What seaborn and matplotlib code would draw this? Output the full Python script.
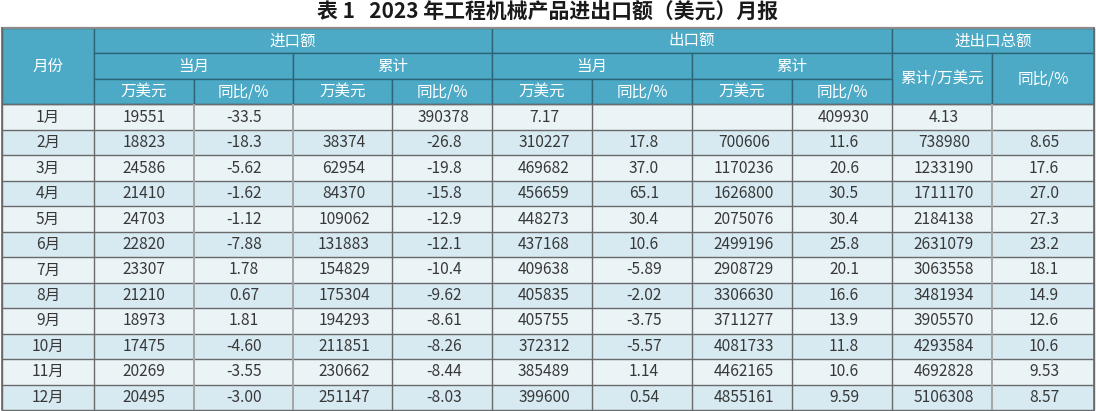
import numpy as np
import matplotlib
matplotlib.use("Agg")
import matplotlib.pyplot as plt
from matplotlib.colors import ListedColormap
from matplotlib.patches import Rectangle
import seaborn as sns

sns.set_style("white")
plt.rcParams['font.family'] = ['Noto Sans CJK SC', 'DejaVu Sans']

# ---------------- data ----------------
title = "表 1   2023 年工程机械产品进出口额（美元）月报"
months = ["1月", "2月", "3月", "4月", "5月", "6月", "7月", "8月", "9月", "10月", "11月", "12月"]
imp_month_val = ["19551", "18823", "24586", "21410", "24703", "22820", "23307", "21210", "18973", "17475", "20269", "20495"]
imp_month_yoy = ["-33.5", "-18.3", "-5.62", "-1.62", "-1.12", "-7.88", "1.78", "0.67", "1.81", "-4.60", "-3.55", "-3.00"]
imp_cum_val = ["", "38374", "62954", "84370", "109062", "131883", "154829", "175304", "194293", "211851", "230662", "251147"]
imp_cum_yoy = ["390378", "-26.8", "-19.8", "-15.8", "-12.9", "-12.1", "-10.4", "-9.62", "-8.61", "-8.26", "-8.44", "-8.03"]
exp_month_val = ["7.17", "310227", "469682", "456659", "448273", "437168", "409638", "405835", "405755", "372312", "385489", "399600"]
exp_month_yoy = ["", "17.8", "37.0", "65.1", "30.4", "10.6", "-5.89", "-2.02", "-3.75", "-5.57", "1.14", "0.54"]
exp_cum_val = ["", "700606", "1170236", "1626800", "2075076", "2499196", "2908729", "3306630", "3711277", "4081733", "4462165", "4855161"]
exp_cum_yoy = ["409930", "11.6", "20.6", "30.5", "30.4", "25.8", "20.1", "16.6", "13.9", "11.8", "10.6", "9.59"]
total_cum = ["4.13", "738980", "1233190", "1711170", "2184138", "2631079", "3063558", "3481934", "3905570", "4293584", "4692828", "5106308"]
total_yoy = ["", "8.65", "17.6", "27.0", "27.3", "23.2", "18.1", "14.9", "12.6", "10.6", "9.53", "8.57"]

# header cells: (text, col_start, col_end, row_start, row_end)
header_cells = [
    ("月份", 0, 1, 0, 3),
    ("进口额", 1, 5, 0, 1), ("出口额", 5, 9, 0, 1), ("进出口总额", 9, 11, 0, 1),
    ("当月", 1, 3, 1, 2), ("累计", 3, 5, 1, 2), ("当月", 5, 7, 1, 2), ("累计", 7, 9, 1, 2),
    ("累计/万美元", 9, 10, 1, 3), ("同比/%", 10, 11, 1, 3),
    ("万美元", 1, 2, 2, 3), ("同比/%", 2, 3, 2, 3), ("万美元", 3, 4, 2, 3), ("同比/%", 4, 5, 2, 3),
    ("万美元", 5, 6, 2, 3), ("同比/%", 6, 7, 2, 3), ("万美元", 7, 8, 2, 3), ("同比/%", 8, 9, 2, 3),
]

# ---------------- layout / style ----------------
W, H = 1096, 411
col_edges = [2, 94, 194, 293, 392, 492, 592, 692, 792, 892, 992, 1094]
table_top, table_bottom = 28, 410
n_header, n_body = 3, len(months)
row_h = (table_bottom - table_top) / (n_header + n_body)
row_edges = [table_top + i * row_h for i in range(n_header + n_body + 1)]
body_top = row_edges[n_header]

header_fc = "#4caac6"
header_line = "#2d6577"
row_light = "#eaf4f7"
row_dark = "#d7eaf1"
line_dark = "#6a6a6a"
line_light = "#a5a5a5"
text_col = "#383838"
fs_body = 11.2
light_vlines = {2, 3, 10}

fig = plt.figure(figsize=(W / 100, H / 100), dpi=100)

def fig_rect(x0, x1, y0, y1):
    return [x0 / W, 1 - y1 / H, (x1 - x0) / W, (y1 - y0) / H]

body_cols = [imp_month_val, imp_month_yoy, imp_cum_val, imp_cum_yoy,
             exp_month_val, exp_month_yoy, exp_cum_val, exp_cum_yoy,
             total_cum, total_yoy]
body_annot = np.array(body_cols, dtype=object).T
parity = np.array([[i % 2] * len(body_cols) for i in range(n_body)], dtype=float)
cmap = ListedColormap([row_light, row_dark])
akw = dict(color=text_col, fontsize=fs_body, family=['Noto Sans CJK SC', 'DejaVu Sans'])

# months column
ax_m = fig.add_axes(fig_rect(col_edges[0], col_edges[1], body_top, table_bottom))
sns.heatmap(parity[:, :1], ax=ax_m, cmap=cmap, vmin=0, vmax=1, cbar=False,
            annot=np.array(months, dtype=object)[:, None], fmt="", annot_kws=akw,
            xticklabels=False, yticklabels=False, linewidths=0)

# body values
ax_b = fig.add_axes(fig_rect(col_edges[1], col_edges[-1], body_top, table_bottom))
sns.heatmap(parity, ax=ax_b, cmap=cmap, vmin=0, vmax=1, cbar=False,
            annot=body_annot, fmt="", annot_kws=akw,
            xticklabels=False, yticklabels=False, linewidths=0)

# overlay for header and grid lines
ov = fig.add_axes([0, 0, 1, 1], zorder=5)
ov.set_xlim(0, W)
ov.set_ylim(H, 0)
ov.axis("off")
ov.patch.set_alpha(0)

# body grid lines
for i in range(n_header, n_header + n_body + 1):
    ov.plot([col_edges[0], col_edges[-1]], [row_edges[i]] * 2, color=line_dark, lw=1.0,
            solid_capstyle="butt")
for j, x in enumerate(col_edges):
    c = line_light if j in light_vlines else line_dark
    ov.plot([x, x], [body_top, table_bottom], color=c, lw=1.0 if c == line_dark else 1.4,
            solid_capstyle="butt")

# header
for text, c0, c1, r0, r1 in header_cells:
    x0, x1 = col_edges[c0], col_edges[c1]
    y0, y1 = row_edges[r0], row_edges[r1]
    ov.add_patch(Rectangle((x0, y0), x1 - x0, y1 - y0, facecolor=header_fc,
                           edgecolor=header_line, lw=1.0))
    ov.text((x0 + x1) / 2, (y0 + y1) / 2, text, ha="center", va="center",
            color="white", fontsize=fs_body)

# outer border
ov.plot([col_edges[0], col_edges[-1]], [table_top, table_top], color="#8a8a8a", lw=1.6)
ov.plot([col_edges[0], col_edges[0]], [table_top, table_bottom], color=line_dark, lw=1.2)
ov.plot([col_edges[-1], col_edges[-1]], [table_top, table_bottom], color=line_dark, lw=1.2)

fig.text(0.5, 1 - 12.5 / H, title, ha="center", va="center", fontsize=15,
         fontweight="bold", color="#1a1a1a")

fig.savefig("out.png", dpi=100)
